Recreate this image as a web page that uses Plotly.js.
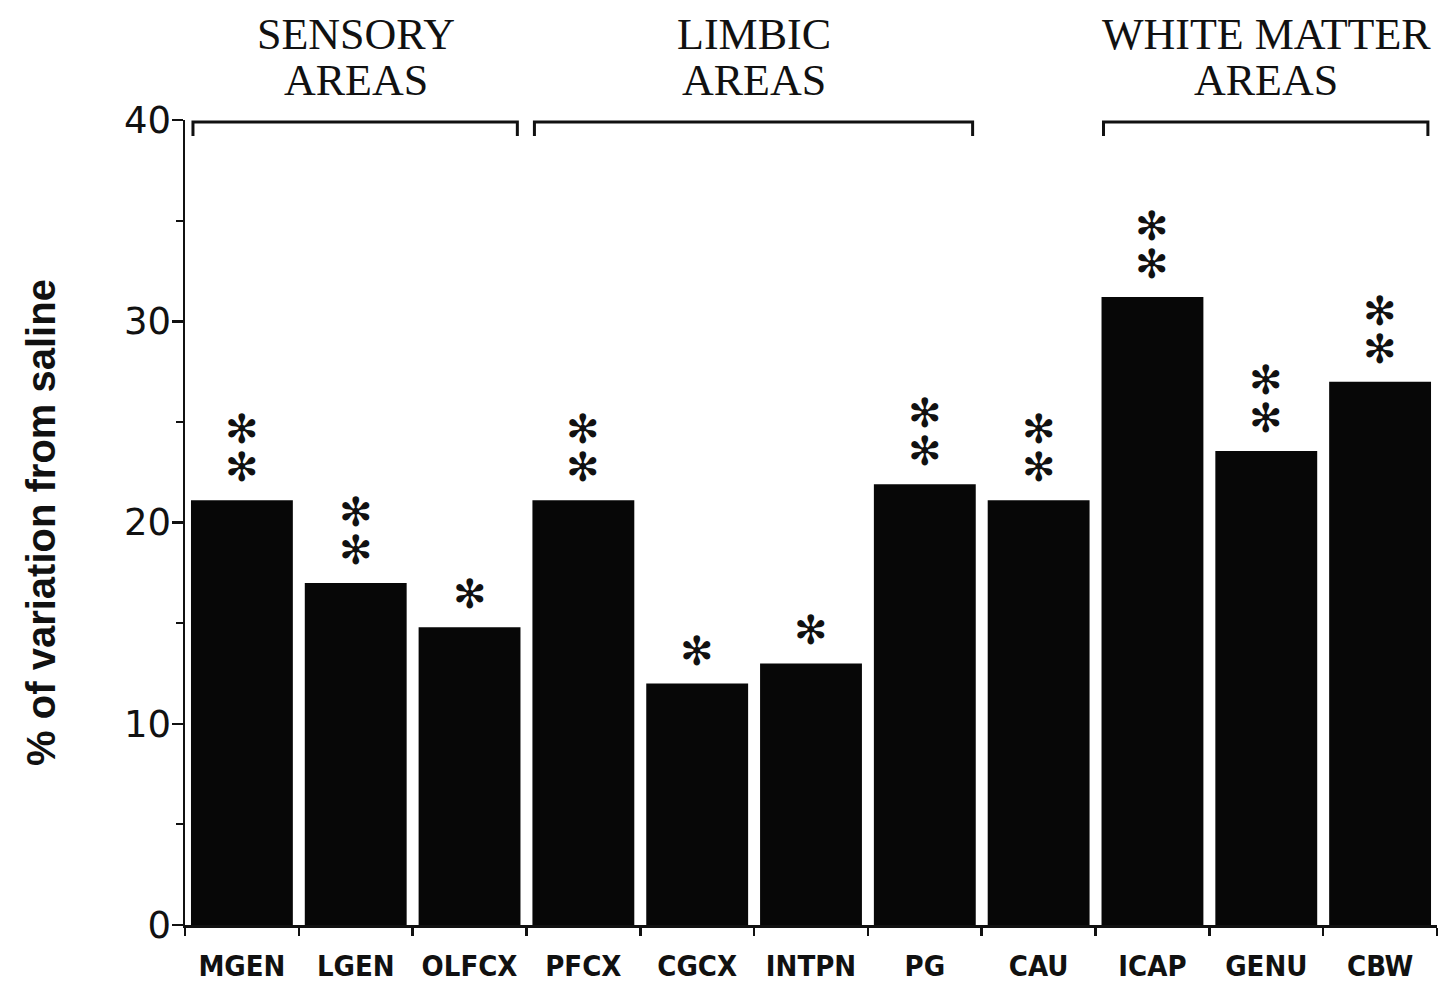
<!DOCTYPE html>
<html>
<head>
<meta charset="utf-8">
<script src="https://cdn.plot.ly/plotly-3.0.1.min.js"></script>
<style>html,body{margin:0;padding:0;background:#fff;}#chart{width:1452px;height:989px;}</style>
</head>
<body>
<div id="chart"></div>
<script>
// ---- data ----
const regions = ['MGEN','LGEN','OLFCX','PFCX','CGCX','INTPN','PG','CAU','ICAP','GENU','CBW'];
const variation = [21.1, 17.0, 14.8, 21.1, 12.0, 13.0, 21.9, 21.1, 31.2, 23.55, 27.0];
const significance = ['**','**','*','**','*','*','**','**','**','**','**'];
const groupNames = [['SENSORY','AREAS'], ['LIMBIC','AREAS'], ['WHITE MATTER','AREAS']];
const groupStart = ['MGEN','PFCX','ICAP'];
const groupEnd = ['OLFCX','PG','CBW'];
const yTitle = '% of variation from saline';

// ---- chart ----
const trace = {
  type: 'bar', x: regions, y: variation,
  marker: {color: '#070707', line: {width: 0}},
  hoverinfo: 'x+y'
};

const star = '<span style="font-size:40px">✻</span>';
const annotations = [];
significance.forEach((s, i) => {
  const text = s.split('').map(() => star).join('<br>');
  annotations.push({
    x: regions[i], y: variation[i], xref: 'x', yref: 'y',
    text: text, showarrow: false, xanchor: 'center', yanchor: 'bottom',
    yshift: 8,
    font: {family: 'DejaVu Sans', size: 29, color: '#111'}
  });
});

const shapes = [];
groupNames.forEach((g, gi) => {
  const a = regions.indexOf(groupStart[gi]);
  const b = regions.indexOf(groupEnd[gi]);
  const x0 = a - 0.43, x1 = b + 0.42;
  const mid = (a + b) / 2;
  shapes.push({type: 'path', xref: 'x', yref: 'y',
    path: `M ${x0} 39.2 L ${x0} 39.9 L ${x1} 39.9 L ${x1} 39.2`,
    line: {color: '#111', width: 3}});
  annotations.push({x: mid, y: 1.1056, xref: 'x', yref: 'paper', text: g[0], showarrow: false,
    xanchor: 'center', yanchor: 'middle', font: {family: 'Liberation Serif', size: 44, color: '#111'}});
  annotations.push({x: mid, y: 1.0485, xref: 'x', yref: 'paper', text: g[1], showarrow: false,
    xanchor: 'center', yanchor: 'middle', font: {family: 'Liberation Serif', size: 44, color: '#111'}});
});

const layout = {
  width: 1452, height: 989,
  margin: {l: 185, r: 15, t: 120, b: 64},
  paper_bgcolor: '#fff', plot_bgcolor: '#fff',
  showlegend: false,
  bargap: 0.105,
  xaxis: {
    type: 'category', range: [-0.5, 10.5], tickangle: 0,
    showline: true, linecolor: '#111', linewidth: 2.5,
    ticks: 'outside', tickson: 'boundaries', ticklen: 8, tickwidth: 2.5, tickcolor: '#111',
    ticklabelstandoff: 14,
    showgrid: false, zeroline: false,
    tickfont: {family: 'DejaVu Sans Condensed', size: 29, color: '#111', weight: 'bold'}
  },
  yaxis: {
    range: [0, 40], dtick: 10, tick0: 0,
    showline: true, linecolor: '#111', linewidth: 2.5,
    ticks: 'outside', ticklen: 11, tickwidth: 2.5, tickcolor: '#111',
    ticklabelstandoff: -7,
    minor: {dtick: 5, ticks: 'outside', ticklen: 7, tickwidth: 2, tickcolor: '#111', showgrid: false},
    showgrid: false, zeroline: false,
    tickfont: {family: 'DejaVu Sans', size: 37, color: '#111'},
    title: {text: yTitle, standoff: 56,
      font: {family: 'Liberation Sans', size: 40, color: '#111', weight: 'bold'}}
  },
  annotations: annotations,
  shapes: shapes
};

Plotly.newPlot('chart', [trace], layout, {displayModeBar: false, staticPlot: true});
</script>
</body>
</html>
